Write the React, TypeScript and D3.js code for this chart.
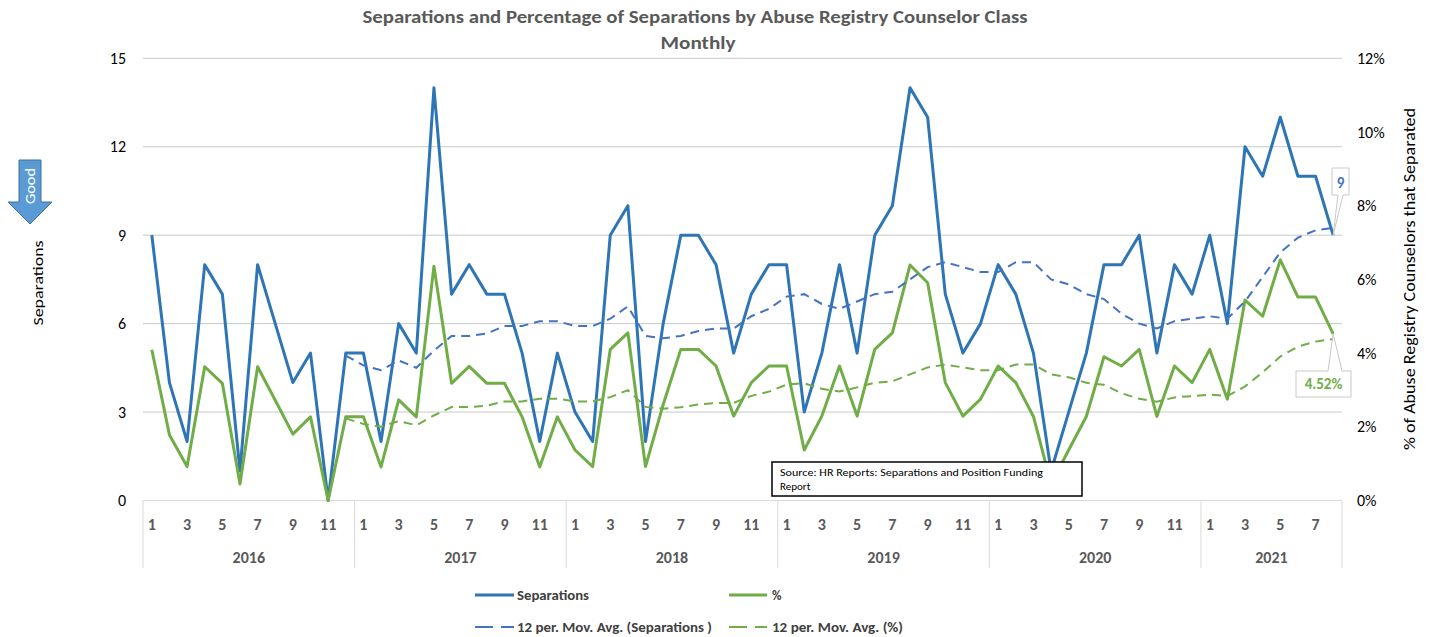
import React from "react";
import * as d3 from "d3";

const years = ["2016", "2017", "2018", "2019", "2020", "2021"];
const monthsPerYear = [12, 12, 12, 12, 12, 8];

const separations = [
  9, 4, 2, 8, 7, 1, 8, 6, 4, 5, 0, 5,
  5, 2, 6, 5, 14, 7, 8, 7, 7, 5, 2, 5,
  3, 2, 9, 10, 2, 6, 9, 9, 8, 5, 7, 8,
  8, 3, 5, 8, 5, 9, 10, 14, 13, 7, 5, 6,
  8, 7, 5, 1, 3, 5, 8, 8, 9, 5, 8, 7,
  9, 6, 12, 11, 13, 11, 11, 9,
];

const percent = [
  4.09, 1.78, 0.92, 3.63, 3.18, 0.45, 3.63, 2.72, 1.8, 2.27, 0, 2.27,
  2.27, 0.91, 2.73, 2.27, 6.36, 3.18, 3.64, 3.18, 3.18, 2.27, 0.91, 2.27,
  1.37, 0.92, 4.1, 4.55, 0.92, 2.6, 4.1, 4.1, 3.65, 2.29, 3.2, 3.65,
  3.65, 1.37, 2.29, 3.65, 2.29, 4.1, 4.55, 6.39, 5.91, 3.2, 2.29, 2.75,
  3.65, 3.2, 2.28, 0.45, 1.37, 2.28, 3.9, 3.65, 4.1, 2.28, 3.65, 3.2,
  4.1, 2.75, 5.44, 5.0, 6.53, 5.52, 5.52, 4.52,
];

const leftTicks = [0, 3, 6, 9, 12, 15];
const rightTicks = [0, 2, 4, 6, 8, 10, 12];
const MA_PERIOD = 12;

const W = 1429;
const H = 637;
const PL = 143;
const PR = 1342;
const PT = 58.3;
const PB = 500.5;

const BLUE = "#2E75B6";
const BLUE_MA = "#4472C4";
const GREEN = "#70AD47";
const FONT = "Carlito, Calibri, 'Liberation Sans', Arial, sans-serif";

function movingAvg(vals: number[], n: number) {
  const out: { i: number; v: number }[] = [];
  for (let i = n - 1; i < vals.length; i++) {
    out.push({ i, v: d3.mean(vals.slice(i - n + 1, i + 1)) as number });
  }
  return out;
}

export default function App() {
  const N = separations.length;
  const x = d3.scaleBand<number>().domain(d3.range(N)).range([PL, PR]).padding(0);
  const cx = (i: number) => (x(i) as number) + x.bandwidth() / 2;
  const yL = d3.scaleLinear().domain([0, 15]).range([PB, PT]);
  const yR = d3.scaleLinear().domain([0, 12]).range([PB, PT]);

  const lineL = d3.line<{ i: number; v: number }>().x((d) => cx(d.i)).y((d) => yL(d.v));
  const lineR = d3.line<{ i: number; v: number }>().x((d) => cx(d.i)).y((d) => yR(d.v));

  const sepPts = separations.map((v, i) => ({ i, v }));
  const pctPts = percent.map((v, i) => ({ i, v }));
  const sepMA = movingAvg(separations, MA_PERIOD);
  const pctMA = movingAvg(percent, MA_PERIOD);

  const cats: { year: string; month: number; i: number }[] = [];
  let k = 0;
  years.forEach((y, yi) => {
    for (let m = 1; m <= monthsPerYear[yi]; m++) {
      cats.push({ year: y, month: m, i: k++ });
    }
  });
  const yearStarts: number[] = [];
  let acc = 0;
  monthsPerYear.forEach((c) => {
    yearStarts.push(acc);
    acc += c;
  });

  const lastI = N - 1;
  const lastX = cx(lastI);
  const lastSepY = yL(separations[lastI]);
  const lastPctY = yR(percent[lastI]);

  return (
    <svg
      width={W}
      height={H}
      style={{ position: "absolute", left: 0, top: 0, background: "#fff" }}
      fontFamily={FONT}
    >
      {/* title */}
      <text x={695} y={23} textAnchor="middle" fontSize={17} fontWeight="bold" fill="#595959" textLength={665} lengthAdjust="spacingAndGlyphs">
        Separations and Percentage of Separations by Abuse Registry Counselor Class
      </text>
      <text x={698} y={49} textAnchor="middle" fontSize={17} fontWeight="bold" fill="#595959" textLength={75} lengthAdjust="spacingAndGlyphs">
        Monthly
      </text>

      {/* gridlines */}
      {leftTicks.map((t) => (
        <line key={"g" + t} x1={PL} x2={PR} y1={yL(t)} y2={yL(t)} stroke={t === 0 ? "#d9d9d9" : "#c8c8c8"} strokeWidth={1} />
      ))}

      {/* left ticks */}
      {leftTicks.map((t) => (
        <text key={"l" + t} x={126} y={yL(t) + 5.5} textAnchor="end" fontSize={16} fill="#000">
          {t}
        </text>
      ))}
      {/* right ticks */}
      {rightTicks.map((t) => (
        <text key={"r" + t} x={1357} y={yR(t) + 5.5} textAnchor="start" fontSize={16} fill="#000">
          {t + "%"}
        </text>
      ))}

      {/* axis titles */}
      <text transform="translate(43,283) rotate(-90)" textAnchor="middle" fontSize={15} fill="#000" textLength={85} lengthAdjust="spacingAndGlyphs">
        Separations
      </text>
      <text transform="translate(1415,279) rotate(-90)" textAnchor="middle" fontSize={16} fill="#000" textLength={342} lengthAdjust="spacingAndGlyphs">
        % of Abuse Registry Counselors that Separated
      </text>

      {/* Good arrow */}
      <polygon
        points="19,160 41,160 41,202 52,202 30,224 8,202 19,202"
        fill="#5B9BD5"
        stroke="#41719C"
        strokeWidth={1}
      />
      <text transform="translate(35,186) rotate(-90)" textAnchor="middle" fontSize={14} fill="#fff" textLength={36} lengthAdjust="spacingAndGlyphs">
        Good
      </text>

      {/* category axis */}
      {yearStarts.map((s, yi) => (
        <line key={"ys" + yi} x1={x(s) as number} x2={x(s) as number} y1={PB} y2={568} stroke="#d9d9d9" strokeWidth={1} />
      ))}
      <line x1={PR} x2={PR} y1={PB} y2={568} stroke="#d9d9d9" strokeWidth={1} />
      {cats
        .filter((c) => c.month % 2 === 1)
        .map((c) => (
          <text key={"m" + c.i} x={cx(c.i)} y={529.5} textAnchor="middle" fontSize={16} fontWeight="bold" fill="#595959">
            {c.month}
          </text>
        ))}
      {years.map((y, yi) => {
        const s = yearStarts[yi];
        const e = s + monthsPerYear[yi];
        const mid = ((x(s) as number) + (e >= N ? PR : (x(e) as number))) / 2;
        return (
          <text key={"y" + y} x={mid} y={563} textAnchor="middle" fontSize={16} fontWeight="bold" fill="#595959">
            {y}
          </text>
        );
      })}

      {/* series */}
      <path d={lineL(sepPts) as string} fill="none" stroke={BLUE} strokeWidth={3} strokeLinejoin="round" />
      <path d={lineR(pctPts) as string} fill="none" stroke={GREEN} strokeWidth={3} strokeLinejoin="round" />
      <path d={lineL(sepMA) as string} fill="none" stroke={BLUE_MA} strokeWidth={2} strokeDasharray="9,6" />
      <path d={lineR(pctMA) as string} fill="none" stroke={GREEN} strokeWidth={2} strokeDasharray="9,6" />

      {/* source box */}
      <rect x={772} y={462} width={310} height={34} fill="#fff" stroke="#000" strokeWidth={1.5} />
      <text x={780} y={476} fontSize={11} fill="#000" textLength={263} lengthAdjust="spacingAndGlyphs">
        Source: HR Reports: Separations and Position Funding
      </text>
      <text x={780} y={490} fontSize={11} fill="#000">
        Report
      </text>

      {/* data label: 9 */}
      <polygon
        points={`${1332},${168} ${1349},${168} ${1349},${195} ${1343},${195} ${lastX},${lastSepY} ${1338},${195} ${1332},${195}`}
        fill="#fff"
        stroke="#c8c8c8"
        strokeWidth={1}
      />
      <text x={1340.5} y={187.5} textAnchor="middle" fontSize={15} fontWeight="bold" fill={BLUE_MA}>
        {separations[lastI]}
      </text>

      {/* data label: 4.52% */}
      <polygon
        points={`${1296},${371} ${1328},${371} ${lastX},${lastPctY} ${1342},${371} ${1351},${371} ${1351},${397} ${1296},${397}`}
        fill="#fff"
        stroke="#c8c8c8"
        strokeWidth={1}
      />
      <text x={1323.5} y={389} textAnchor="middle" fontSize={15} fontWeight="bold" fill={GREEN}>
        {percent[lastI].toFixed(2) + "%"}
      </text>

      {/* legend */}
      <line x1={475} x2={514} y1={595} y2={595} stroke={BLUE} strokeWidth={3} />
      <text x={517} y={599.5} fontSize={13} fontWeight="bold" fill="#404040" textLength={72} lengthAdjust="spacingAndGlyphs">Separations</text>
      <line x1={729} x2={767} y1={595} y2={595} stroke={GREEN} strokeWidth={3} />
      <text x={772} y={599.5} fontSize={13} fontWeight="bold" fill="#404040">%</text>
      <line x1={475} x2={514} y1={627} y2={627} stroke={BLUE_MA} strokeWidth={2} strokeDasharray="18,8" />
      <text x={517} y={631.5} fontSize={13} fontWeight="bold" fill="#404040" textLength={195} lengthAdjust="spacingAndGlyphs">
        12 per. Mov. Avg. (Separations )
      </text>
      <line x1={729} x2={767} y1={627} y2={627} stroke={GREEN} strokeWidth={2} strokeDasharray="18,8" />
      <text x={772} y={631.5} fontSize={13} fontWeight="bold" fill="#404040" textLength={131} lengthAdjust="spacingAndGlyphs">
        12 per. Mov. Avg. (%)
      </text>
    </svg>
  );
}
